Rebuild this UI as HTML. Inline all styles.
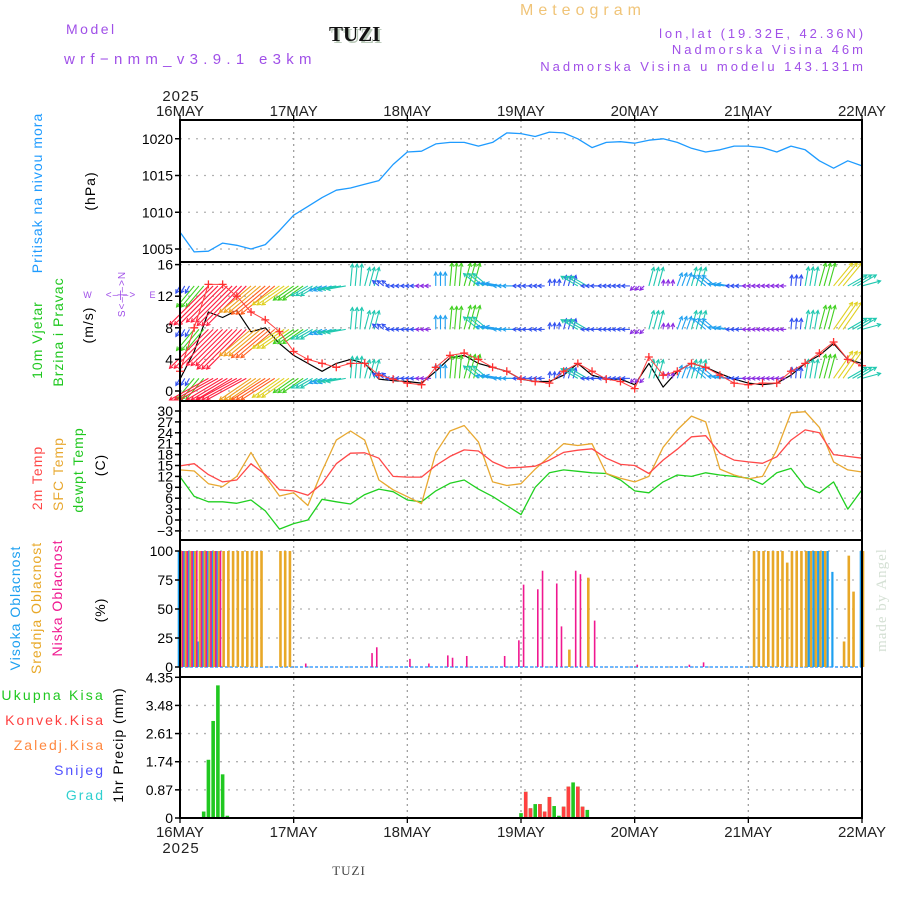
<!DOCTYPE html>
<html><head><meta charset="utf-8"><style>
html,body{margin:0;padding:0;background:#fff;}
svg{display:block;font-family:"Liberation Sans",sans-serif;}
</style></head><body>
<svg id="chart" width="900" height="900" viewBox="0 0 900 900" xmlns="http://www.w3.org/2000/svg">
<g>
<text x="66" y="34" font-size="14" fill="#a050e8" letter-spacing="2.5">Model</text>
<text x="64" y="64" font-size="15" fill="#a050e8" letter-spacing="5.3">wrf−nmm_v3.9.1 e3km</text>
<text x="331" y="43" font-size="21" font-weight="bold" font-family="Liberation Serif,serif" fill="#b8c8b8">TUZI</text>
<text x="329" y="41" font-size="21" font-weight="bold" font-family="Liberation Serif,serif" fill="#111">TUZI</text>
<text x="520" y="15" font-size="16" fill="#f0c478" letter-spacing="5">Meteogram</text>
<text x="866" y="38" font-size="13" fill="#a050e8" text-anchor="end" letter-spacing="2.9">lon,lat (19.32E, 42.36N)</text>
<text x="866" y="54" font-size="13" fill="#a050e8" text-anchor="end" letter-spacing="3">Nadmorska Visina 46m</text>
<text x="866" y="71" font-size="13" fill="#a050e8" text-anchor="end" letter-spacing="3">Nadmorska Visina u modelu 143.131m</text>
</g>
<g id="grid"></g>
<g id="marks"></g>
<g id="frames"></g>
<g id="labels"></g>
</svg>
<script>
// ---------- data ----------
const days = ["16MAY","17MAY","18MAY","19MAY","20MAY","21MAY","22MAY"];
const pTicks = [1005,1010,1015,1020];
const wTicks = [0,4,8,12,16];
const tTicks = [-3,0,3,6,9,12,15,18,21,24,27,30];
const cTicks = [0,25,50,75,100];
const rTicks = ["0","0.87","1.74","2.61","3.48","4.35"];
// 3-hourly series, 49 values (16MAY00 .. 22MAY00)
const pressure = [1007.3,1004.6,1004.7,1005.8,1005.5,1005.0,1005.6,1007.5,1009.6,1010.8,1012.0,1013.0,1013.3,1013.8,1014.3,1016.5,1018.2,1018.3,1019.3,1019.5,1019.5,1019.0,1019.5,1020.8,1020.7,1020.3,1020.9,1020.8,1020.0,1018.8,1019.5,1019.6,1019.4,1019.8,1020.0,1019.5,1018.7,1018.2,1018.5,1019.0,1019.0,1018.8,1018.2,1019.0,1018.5,1017.0,1016.0,1017.0,1016.3];
const windSpeed = [1.5,5,10,9.3,10.2,7.5,8,6,4.5,3.5,2.5,3.5,4,3.5,1.5,1.3,1.2,1.0,2.5,4.2,4.5,3.5,3,2.5,1.5,1.2,1.2,2,3.5,2,1.5,1.5,0.8,3.5,0.5,2.5,3.5,3,2.2,1.5,1,0.8,1.0,2,3.5,4.5,6,4,3.5];
const windGust = [2.5,8,13.5,13.5,12,10,9,7.5,5,4,3.5,3,3.5,3.5,2,1.5,1,0.8,3,4.5,4.8,4,3,2.5,1.5,1.2,1,2.5,3.5,2.5,1.5,1.2,0.3,4.3,2,2.5,3.5,3,2,1,0.8,1,1.0,2.5,3.5,4.8,6.2,4,3.2];
const windDir = [30,40,45,45,45,50,50,55,55,60,70,80,185,195,130,90,90,90,180,185,195,130,100,90,90,90,185,195,120,90,90,90,45,195,185,200,195,130,100,90,90,90,90,185,190,195,215,240,255];
const temp2m = [14.9,15.5,12.5,10.5,11,15.5,12.5,8.3,8.0,6.8,10,15.5,18.4,18.5,17,12,11.8,11.8,15,17.5,19.3,19,16,14.3,14.5,14.8,16.5,18.6,19.2,19.6,17,15.3,15,12.8,16.5,19.5,22.9,23.2,18.4,16.5,16,15.6,17.4,22,24.8,24,18,17.5,17];
const tempSfc = [13.8,13.5,10,9.2,12,18.6,12,6.6,7.5,4,13.5,22,24.5,22,11,8.3,6.4,4.5,18.5,24.5,26,21.5,10.5,9.5,10,14,17.5,21,20.5,21,12.8,11.5,10.5,12,20,24.8,28.6,27,14,12.4,11.3,12,19.3,29.5,29.8,25.5,16,13.8,13.2];
const tempDew = [11.9,6.5,5,5,4.6,5.5,2.5,-2.5,-1,0,5.7,5,4.4,7,8.5,7.8,5.5,5,8,10.1,11,8.5,6.5,4,1.5,9,13,13.8,13.4,13,12.8,11,8,7.5,10.5,12.4,12,13,12.4,12,11.5,9.8,13,14.2,9.2,7.5,10.5,3,8.3];
// clouds (hour since 16MAY00, percent)
const cloudHighHours = [0,1,2,3,4,5,6,7,8,133,134,135,136,137,138,144];
const cloudHigh      = [100,100,100,100,22,100,100,100,100,100,100,100,100,100,82,100];
const cloudMidHours = [0,1,2,3,4,5,6,7,8,9,10,11,12,13,14,15,16,17,21,22,23,82,86,121,122,123,124,125,126,127,128,129,130,131,132,133,134,135,136,140,141,142,144];
const cloudMid      = [100,100,100,100,100,100,100,100,100,100,100,100,100,100,100,100,100,100,100,100,100,15,77,100,100,100,100,100,100,100,90,100,100,100,100,100,100,100,100,22,96,65,100];
const cloudLowHours = [0,1,2,3,4,5,6,7,8,26,40,41,48,52,56,57,60,68,71,72,75,76,79,80,83,84,87,96,107,110];
const cloudLow      = [100,100,100,100,100,100,100,100,100,3,12,17,7,3,10,8,9.5,9.5,23,71,67,83,72,35,83,80,40,2,2,4];
// precipitation (hour, total mm, convective mm)
const precipHours = [3,5,6,7,8,9,10,72,73,74,75,76,77,78,79,80,81,82,83,84,85,86];
const precipTotal = [0.02,0.2,1.8,3.0,4.1,1.35,0.07,0.15,0.81,0.3,0.43,0.43,0.2,0.65,0.37,0.07,0.35,0.97,1.1,0.97,0.35,0.25];
const precipConv  = [0,0,0,0,0,0,0,0,0.81,0.3,0,0.43,0.2,0.65,0,0,0.35,0.97,0,0.97,0.35,0];

// ---------- scales ----------
const X0=180, X1=862, HOURS=144;
const xH = h => X0 + h*(X1-X0)/HOURS;
const xI = i => xH(i*3);
const yP = p => 249 - (p-1005)*7.35;
const yW = v => 391 - v*7.9;
const yT = t => 520 - t*3.633;
const yC = c => 667 - c*1.16;
const yR = r => 818 - r*32.35;
const panels = [[120,262],[262,401],[401,540],[540,677],[677,818]];
const NS="http://www.w3.org/2000/svg";
function mk(parent,tag,attrs){const e=document.createElementNS(NS,tag);for(const k in attrs)e.setAttribute(k,attrs[k]);parent.appendChild(e);return e;}
const grid=document.getElementById('grid'), marks=document.getElementById('marks'), frames=document.getElementById('frames'), labels=document.getElementById('labels');

function hgrid(vals,fy,top,bot,name){
  vals.forEach(v=>{const y=fy(parseFloat(v)); if(y>top+1&&y<bot-1){
    const l=mk(grid,'line',{x1:X0,x2:X1,y1:y,y2:y,stroke:'#b0b0b0','stroke-width':1.3,'stroke-dasharray':'2,6'});
    
    
  }});
}
hgrid(pTicks,yP,120,262,'pressure');hgrid(wTicks,yW,262,401,'wind');hgrid(tTicks,yT,401,540,'temp');hgrid(cTicks,yC,540,677,'cloud');hgrid(rTicks,yR,677,818,'precip');
days.forEach((d,i)=>{const x=xH(i*24); if(i>0&&i<6){
  const l=mk(grid,'line',{x1:x,x2:x,y1:120,y2:818,stroke:'#a0a0a0','stroke-width':1.3,'stroke-dasharray':'2,4'});
  
  
}});

function series(arr,fy,color,name,w){
  const pts=arr.map((v,i)=>xI(i).toFixed(1)+','+fy(v).toFixed(1)).join(' ');
  const p=mk(marks,'polyline',{points:pts,fill:'none',stroke:color,'stroke-width':w||1.3,'stroke-linejoin':'round'});
  
  
}
series(pressure,yP,'#1e9bff','pressure-line');

// wind
series(windSpeed,yW,'#000','wind-speed-line',1.2);
function windColor(s){ if(s>9)return '#ff2040'; if(s>7.5)return '#ff6020'; if(s>6)return '#f0a020'; if(s>5)return '#e0d020'; if(s>4)return '#40d020'; if(s>3)return '#20c8b0'; if(s>2)return '#20a0f0'; if(s>1)return '#3050f0'; return '#8a2be2'; }
const rows=[1.6,7.8,13.3];
rows.forEach((rv,ri)=>{
  windSpeed.forEach((s,i)=>{
    for(let k=0;k<3;k++){
      if(i===48&&k>0)continue;
      const x=xI(i)+k*4.74, y=yW(rv);
      const ang=(windDir[i]+180)*Math.PI/180;
      const L=Math.max(s*5.5,6);
      const x2=x+L*Math.sin(ang), y2=Math.max(263,Math.min(400,y-L*Math.cos(ang)));
      const c=windColor(s);
      const a=mk(marks,'line',{x1:x,y1:y,x2:x2,y2:y2,stroke:c,'stroke-width':1.1});
      
      
      const th=Math.atan2(y2-y,x2-x);
      const h1=mk(marks,'polyline',{points:`${x2-4*Math.cos(th-0.5)},${y2-4*Math.sin(th-0.5)} ${x2},${y2} ${x2-4*Math.cos(th+0.5)},${y2-4*Math.sin(th+0.5)}`,fill:'none',stroke:c,'stroke-width':1.1});
      
      
    }
  });
});
series(windGust,yW,'#ff4040','wind-gust-line',1);
windGust.forEach((g,i)=>{const x=xI(i),y=yW(g);
  const m=mk(marks,'path',{d:`M${x-4},${y}h8M${x},${y-4}v8`,stroke:'#ff3030','stroke-width':1.3});
  
  
});

// temperature
series(tempDew,yT,'#20d020','dewpoint-line');
series(tempSfc,yT,'#e8a830','sfc-temp-line');
series(temp2m,yT,'#ff4848','temp-2m-line');

// clouds
const base=mk(marks,'line',{x1:X0,x2:X1,y1:yC(0),y2:yC(0),stroke:'#40a0ff','stroke-width':1.5,'stroke-dasharray':'3,2'});


function bars(hours,vals,color,w,off,name){
  hours.forEach((h,i)=>{const x=xH(h)+off, y=yC(vals[i]);
    const r=mk(marks,'rect',{x:x-w/2,y:y,width:w,height:yC(0)-y,fill:color});
    
    
  });
}
bars(cloudMidHours,cloudMid,'#e8a828',2.6,1,'mid-cloud-bar');
bars(cloudHighHours,cloudHigh,'#1ea0f0',2.2,-1.2,'high-cloud-bar');
bars(cloudLowHours,cloudLow,'#f01890',1.6,2.6,'low-cloud-bar');

// precip
precipHours.forEach((h,i)=>{const x=xH(h);
  const g=mk(marks,'rect',{x:x-1.8,y:yR(precipTotal[i]),width:3.6,height:818-yR(precipTotal[i]),fill:'#20c820'});
  
  
  if(precipConv[i]>0){
    const r=mk(marks,'rect',{x:x-1.8,y:yR(precipConv[i]),width:3.6,height:818-yR(precipConv[i]),fill:'#ff4040'});
    
    
  }
});

// frames
panels.forEach(([t,b],i)=>{
  const r=mk(frames,'rect',{x:X0,y:t,width:X1-X0,height:b-t,fill:'none',stroke:'#000','stroke-width':2});
  
  
});

function ticks(vals,fy,name){
  vals.forEach(v=>{const y=fy(parseFloat(v));
    const t=mk(labels,'text',{x:173,y:y+5,'font-size':14,'text-anchor':'end',fill:'#000'});
    t.textContent=String(v).replace('-','−');
    
    
    const l=mk(labels,'line',{x1:X0-5,x2:X0,y1:y,y2:y,stroke:'#000','stroke-width':1.5});
    
    
  });
}
ticks(pTicks,yP,'pressure');ticks(wTicks,yW,'wind');ticks(tTicks,yT,'temp');ticks(cTicks,yC,'cloud');ticks(rTicks,yR,'precip');
days.forEach((d,i)=>{const x=xH(i*24);
  [[116,'top'],[837,'bottom']].forEach(([y,pos])=>{
    const t=mk(labels,'text',{x:x,y:y,'font-size':15,'text-anchor':'middle',fill:'#222'});
    t.textContent=d;
    
    
  });
  [[120,115],[818,823]].forEach(([a,b])=>{const l=mk(labels,'line',{x1:x,x2:x,y1:a,y2:b,stroke:'#000','stroke-width':1.3});
    
    });
});
</script>
<script>
const L=document.getElementById('labels');
const items=[
 ['year-top','2025',181,101,15,'#222',0,'middle',0,1],
 ['year-bottom','2025',181,853,15,'#222',0,'middle',0,1],
 ['footer-station','TUZI',349,875,13,'#444',0,'middle',1,1],
 ['pressure-title','Pritisak na nivou mora',42,193,14,'#1e9bff',-90,'middle',0,1],
 ['pressure-unit','(hPa)',95,191,14,'#000',-90,'middle',0,1],
 ['wind-title-1','10m Vjetar',42,340,14,'#20c820',-90,'middle',0,1],
 ['wind-title-2','Brzina i Pravac',63,332,14,'#20c820',-90,'middle',0,1],
 ['wind-unit','(m/s)',93,325,14,'#000',-90,'middle',0,1],
 ['temp-title-2m','2m Temp',42,478,14,'#ff4848',-90,'middle',0,1],
 ['temp-title-sfc','SFC Temp',63,474,14,'#e8a830',-90,'middle',0,1],
 ['temp-title-dew','dewpt Temp',83,470,14,'#20c820',-90,'middle',0,1],
 ['temp-unit','(C)',105,465,14,'#000',-90,'middle',0,1],
 ['cloud-title-high','Visoka Oblacnost',20,608,14,'#1ea0f0',-90,'middle',0,1],
 ['cloud-title-mid','Srednja Oblacnost',41,608,14,'#e8a828',-90,'middle',0,1],
 ['cloud-title-low','Niska Oblacnost',62,598,14,'#f01890',-90,'middle',0,1],
 ['cloud-unit','(%)',105,610,14,'#000',-90,'middle',0,1],
 ['precip-unit','1hr Precip (mm)',123,745,14,'#000',-90,'middle',0,1],
 ['legend-total','Ukupna Kisa',105,700,14,'#20c820',0,'end',0,2.2],
 ['legend-conv','Konvek.Kisa',105,725,14,'#ff4040',0,'end',0,2],
 ['legend-frozen','Zaledj.Kisa',105,750,14,'#ff8840',0,'end',0,2],
 ['legend-snow','Snijeg',105,775,14,'#5050ff',0,'end',0,2],
 ['legend-hail','Grad',105,800,14,'#30d0d0',0,'end',0,2],
 ['credit','made by Angel',886,600,15,'#d4e0d4',-90,'middle',1,1],
 ['compass-w','W',88,298,9,'#a050e8',0,'middle',0,1],
 ['compass-e','E',153,298,9,'#a050e8',0,'middle',0,1],
 ['compass-ew','<–|–>',121,298,10,'#a050e8',0,'middle',0,1],
 ['compass-ns','S<–|–>N',125,294,10,'#a050e8',-90,'middle',0,1]
];
items.forEach(it=>{
  const t=document.createElementNS('http://www.w3.org/2000/svg','text');
  t.setAttribute('x',it[2]);t.setAttribute('y',it[3]);t.setAttribute('font-size',it[4]);t.setAttribute('fill',it[5]);
  t.setAttribute('text-anchor',it[7]);t.setAttribute('letter-spacing',it[9]);
  if(it[6])t.setAttribute('transform',`rotate(${it[6]} ${it[2]} ${it[3]})`);
  if(it[8])t.setAttribute('font-family','Liberation Serif,serif');
  t.textContent=it[1];
  
  
  L.appendChild(t);
});
</script>
</body></html>
